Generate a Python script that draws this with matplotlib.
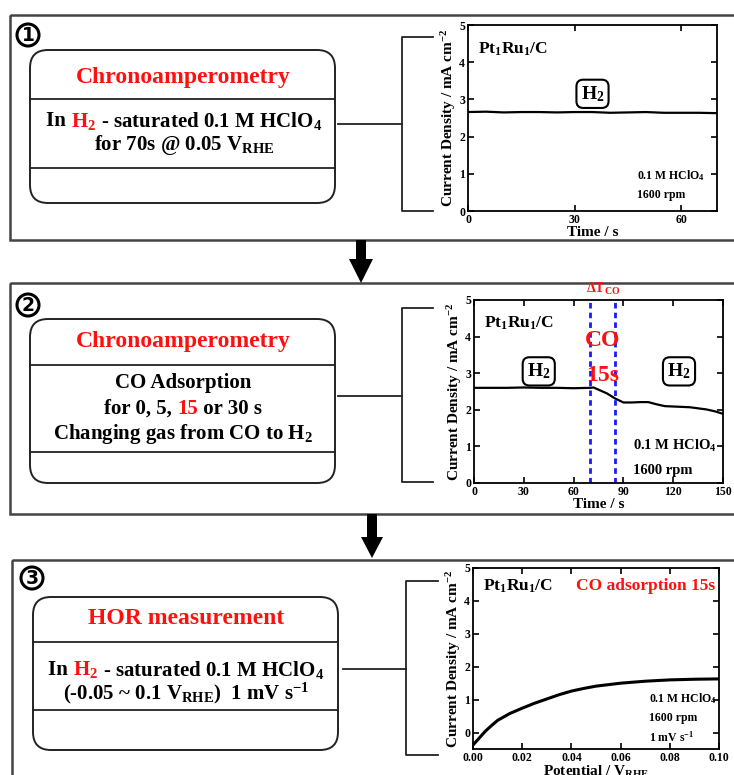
import matplotlib
matplotlib.use("Agg")
import matplotlib.pyplot as plt
from matplotlib.patches import FancyBboxPatch, Rectangle, Circle, Polygon

plt.rcParams['font.family'] = ['Liberation Serif', 'DejaVu Serif']
plt.rcParams['font.weight'] = 'bold'
plt.rcParams['mathtext.fontset'] = 'custom'
plt.rcParams['mathtext.rm'] = 'Liberation Serif:bold'
plt.rcParams['mathtext.it'] = 'Liberation Serif:bold'
plt.rcParams['mathtext.bf'] = 'Liberation Serif:bold'

# ---------------- data ----------------
t1 = [0, 5, 10, 15, 20, 25, 30, 35, 40, 45, 50, 55, 60, 65, 70]
j1 = [2.66, 2.67, 2.65, 2.66, 2.66, 2.65, 2.66, 2.66, 2.64, 2.65, 2.66, 2.64, 2.64, 2.64, 2.63]

t2 = [0, 10, 20, 30, 40, 50, 60, 70, 72, 75, 80, 85, 90, 95, 100, 105, 110, 115, 120, 130, 140, 145, 150]
j2 = [2.60, 2.60, 2.60, 2.61, 2.60, 2.60, 2.59, 2.60, 2.61, 2.55, 2.45, 2.31, 2.20, 2.20, 2.21, 2.21, 2.15, 2.10, 2.09, 2.07, 2.01, 1.96, 1.89]

e3 = [0.0, 0.0025, 0.005, 0.0075, 0.01, 0.015, 0.02, 0.025, 0.03, 0.035, 0.04, 0.045, 0.05, 0.06, 0.07, 0.08, 0.09, 0.10]
j3 = [-0.38, -0.17, 0.04, 0.21, 0.37, 0.58, 0.74, 0.89, 1.02, 1.15, 1.26, 1.34, 1.41, 1.50, 1.56, 1.60, 1.62, 1.63]

co_start, co_end = 70, 85

W, H = 734, 775
fig = plt.figure(figsize=(W / 100, H / 100), dpi=100)
ov = fig.add_axes([0, 0, 1, 1])
ov.set_xlim(0, W)
ov.set_ylim(H, 0)
ov.axis('off')

RED = '#ff1010'
FRAME = '#444444'

renderer = fig.canvas.get_renderer()


def rich_line(xc, y, pieces, fs):
    texts = []
    for s, c in pieces:
        t = ov.text(0, y, s, color=c, fontsize=fs, fontweight='bold', ha='left', va='center')
        texts.append(t)
    widths = [t.get_window_extent(renderer=renderer).width for t in texts]
    x = xc - sum(widths) / 2
    for t, w in zip(texts, widths):
        t.set_x(x)
        x += w


# panel frames
panels = [(10, 15, 740, 225), (10, 283, 740, 231), (12, 560, 740, 230)]
for x0, y0, w, h in panels:
    ov.add_patch(Rectangle((x0, y0), w, h, fill=False, ec=FRAME, lw=1.8))

# arrows
for xc, ytop, yhead, ytip, sw, hw in [(361, 240, 259, 283, 5, 12), (372, 514, 537, 558, 5, 11)]:
    ov.add_patch(Rectangle((xc - sw, ytop), 2 * sw, yhead - ytop + 1, color='black', lw=0))
    ov.add_patch(Polygon([(xc - hw, yhead), (xc + hw, yhead), (xc, ytip)], closed=True, color='black', lw=0))

# circled numbers
for (cx, cy), n in zip([(28, 35), (28, 305), (32, 578)], ['1', '2', '3']):
    ov.add_patch(Circle((cx, cy), 11, fill=False, ec='black', lw=2.2))
    ov.text(cx, cy + 0.5, n, fontsize=13.5, fontweight='bold', ha='center', va='center', family='DejaVu Sans')

# rounded boxes: (x0, y0, x1, y1, div1, div2)
boxes = [(30, 50, 335, 203, 99, 168), (30, 319, 335, 483, 365, 452), (33, 597, 338, 750, 642, 710)]
for x0, y0, x1, y1, d1, d2 in boxes:
    ov.add_patch(FancyBboxPatch((x0 + 18, y0 + 18), x1 - x0 - 36, y1 - y0 - 36,
                                boxstyle='round,pad=18', fill=False, ec='#222222', lw=1.4))
    ov.plot([x0, x1], [d1, d1], color='#222222', lw=1.3)
    ov.plot([x0, x1], [d2, d2], color='#222222', lw=1.3)

BFS = 15
# box texts
ov.text(183, 78, 'Chronoamperometry', color=RED, fontsize=17, fontweight='bold', ha='center', va='center')
rich_line(184, 121, [('In ', 'black'), ('H$_2$', RED), (' - saturated 0.1 M HClO$_4$', 'black')], BFS)
rich_line(184, 145, [('for 70s @ 0.05 V$_{\\rm RHE}$', 'black')], BFS)

ov.text(183, 342, 'Chronoamperometry', color=RED, fontsize=17, fontweight='bold', ha='center', va='center')
rich_line(183, 383, [('CO Adsorption', 'black')], BFS)
rich_line(183, 409, [('for 0, 5, ', 'black'), ('15', RED), (' or 30 s', 'black')], BFS)
rich_line(183, 434, [('Changing gas from CO to H$_2$', 'black')], BFS)

ov.text(186, 618, 'HOR measurement', color=RED, fontsize=17, fontweight='bold', ha='center', va='center')
rich_line(186, 670, [('In ', 'black'), ('H$_2$', RED), (' - saturated 0.1 M HClO$_4$', 'black')], BFS)
rich_line(186, 693, [('(-0.05 ~ 0.1 V$_{\\rm RHE}$)  1 mV s$^{-1}$', 'black')], BFS)

# connectors & brackets
for xl, xr, ym, xb, yt, yb, xt in [(338, 402, 124, 402, 37, 211, 433),
                                   (338, 402, 396, 402, 308, 482, 433),
                                   (343, 406, 669, 406, 581, 755, 438)]:
    ov.plot([xl, xr], [ym, ym], color='#222222', lw=1.3)
    ov.plot([xt, xb, xb, xt], [yt, yt, yb, yb], color='#222222', lw=1.3)


def make_axes(l, t, r, b):
    return fig.add_axes([l / W, 1 - b / H, (r - l) / W, (b - t) / H])


def style(ax):
    for s in ax.spines.values():
        s.set_linewidth(1.3)
    ax.tick_params(direction='in', top=True, right=True, length=4, width=1.2, labelsize=8.5, pad=2)
    for lab in ax.get_xticklabels() + ax.get_yticklabels():
        lab.set_fontweight('bold')


h2_box = dict(boxstyle='round,pad=0.22,rounding_size=0.35', fc='white', ec='black', lw=1.5)
YL = 'Current Density / mA cm$^{-2}$'

# ---- plot 1 ----
ax1 = make_axes(468, 25, 717, 211)
ax1.plot(t1, j1, color='black', lw=1.6)
ax1.set_xlim(0, 70)
ax1.set_ylim(0, 5)
ax1.set_xticks([0, 30, 60])
ax1.set_yticks([0, 1, 2, 3, 4, 5])
style(ax1)
ax1.set_ylabel(YL, fontsize=11, fontweight='bold', labelpad=1)
ax1.set_xlabel('Time / s', fontsize=11, fontweight='bold', labelpad=0)
ax1.text(0.04, 0.87, 'Pt$_1$Ru$_1$/C', transform=ax1.transAxes, fontsize=12.5, fontweight='bold', va='center')
ax1.text(35, 3.15, 'H$_2$', fontsize=14, fontweight='bold', ha='center', va='center', bbox=h2_box)
ax1.text(0.68, 0.19, '0.1 M HClO$_4$', transform=ax1.transAxes, fontsize=8.5, fontweight='bold', ha='left', va='center')
ax1.text(0.68, 0.085, '1600 rpm', transform=ax1.transAxes, fontsize=8.5, fontweight='bold', ha='left', va='center')

# ---- plot 2 ----
ax2 = make_axes(474, 300, 723, 483)
ax2.plot(t2, j2, color='black', lw=1.6)
ax2.axvline(co_start, color='#1a1aff', lw=2, ls=(0, (2, 1.5)))
ax2.axvline(co_end, color='#1a1aff', lw=2, ls=(0, (2, 1.5)))
ax2.set_xlim(0, 150)
ax2.set_ylim(0, 5)
ax2.set_xticks([0, 30, 60, 90, 120, 150])
ax2.set_yticks([0, 1, 2, 3, 4, 5])
style(ax2)
ax2.set_ylabel(YL, fontsize=11, fontweight='bold', labelpad=1)
ax2.set_xlabel('Time / s', fontsize=11, fontweight='bold', labelpad=0)
ax2.text(0.04, 0.87, 'Pt$_1$Ru$_1$/C', transform=ax2.transAxes, fontsize=12.5, fontweight='bold', va='center')
ax2.text(39, 3.05, 'H$_2$', fontsize=14, fontweight='bold', ha='center', va='center', bbox=h2_box)
ax2.text(123.5, 3.05, 'H$_2$', fontsize=14, fontweight='bold', ha='center', va='center', bbox=h2_box)
ax2.text(77.5, 3.9, 'CO', color=RED, fontsize=17, fontweight='bold', ha='center', va='center')
ax2.text(77.5, 2.95, '15s', color=RED, fontsize=17, fontweight='bold', ha='center', va='center')
ax2.text(77.5, 5.08, '$\\Delta$T$_{\\rm CO}$', color=RED, fontsize=10, fontweight='bold', ha='center', va='bottom')
ax2.text(0.64, 0.20, '0.1 M HClO$_4$', transform=ax2.transAxes, fontsize=10.5, fontweight='bold', ha='left', va='center')
ax2.text(0.64, 0.07, '1600 rpm', transform=ax2.transAxes, fontsize=10.5, fontweight='bold', ha='left', va='center')

# ---- plot 3 ----
ax3 = make_axes(473, 568, 719, 749)
ax3.plot(e3, j3, color='black', lw=2.2)
ax3.set_xlim(0, 0.10)
ax3.set_ylim(-0.5, 5)
ax3.set_xticks([0.0, 0.02, 0.04, 0.06, 0.08, 0.10])
ax3.set_xticklabels(['0.00', '0.02', '0.04', '0.06', '0.08', '0.10'])
ax3.set_yticks([0, 1, 2, 3, 4, 5])
style(ax3)
ax3.set_ylabel(YL, fontsize=11, fontweight='bold', labelpad=1)
ax3.set_xlabel('Potential / V$_{\\rm RHE}$', fontsize=11, fontweight='bold', labelpad=0)
ax3.text(0.04, 0.90, 'Pt$_1$Ru$_1$/C', transform=ax3.transAxes, fontsize=12.5, fontweight='bold', va='center')
ax3.text(0.985, 0.90, 'CO adsorption 15s', color=RED, transform=ax3.transAxes, fontsize=12.5, fontweight='bold', ha='right', va='center')
ax3.text(0.715, 0.28, '0.1 M HClO$_4$', transform=ax3.transAxes, fontsize=8.5, fontweight='bold', ha='left', va='center')
ax3.text(0.715, 0.17, '1600 rpm', transform=ax3.transAxes, fontsize=8.5, fontweight='bold', ha='left', va='center')
ax3.text(0.715, 0.066, '1 mV s$^{-1}$', transform=ax3.transAxes, fontsize=8.5, fontweight='bold', ha='left', va='center')

fig.savefig('out.png', dpi=100)
